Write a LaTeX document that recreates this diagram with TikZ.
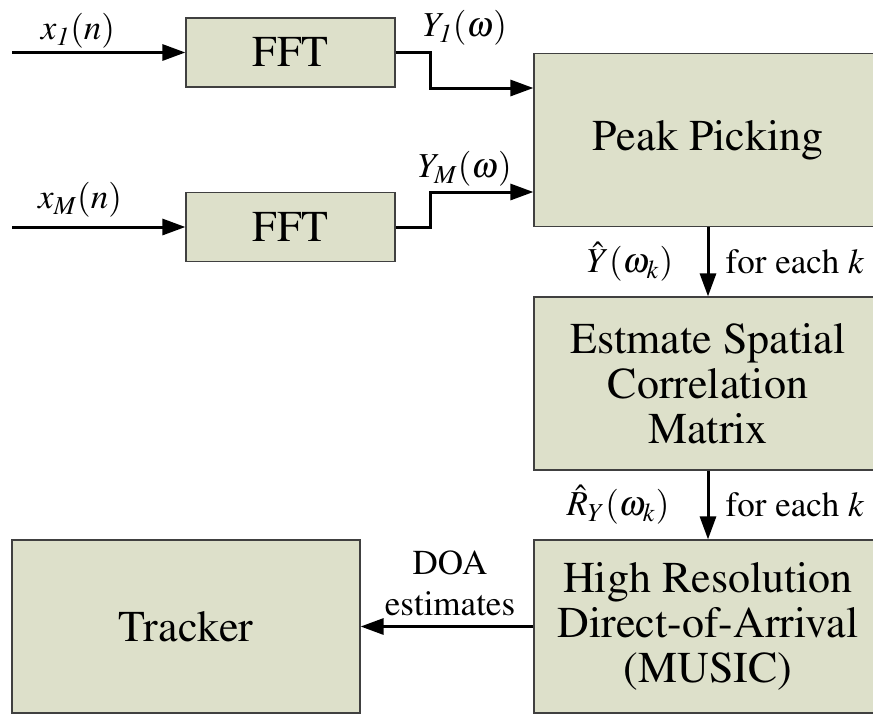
\documentclass[tikz,border=0pt]{standalone}
\usepackage[T1]{fontenc}
\usepackage{mathptmx}
\usetikzlibrary{arrows.meta,calc,positioning}
\definecolor{boxgreen}{RGB}{221,224,202}

\begin{document}
\begin{tikzpicture}[x=0.5pt,y=-0.5pt,
    block/.style={draw=black!75,line width=0.6pt,fill=boxgreen,inner sep=0pt,align=center,font=\fontsize{22}{22.5}\selectfont},
    bigblock/.style={block,minimum width=174pt,minimum height=86.5pt},
    fftblock/.style={block,minimum width=104.5pt,minimum height=34.5pt},
    sig/.style={-{Triangle[length=11.5pt,width=8pt]},line width=1.5pt},
    lbl/.style={font=\fontsize{17.5}{20.5}\selectfont,inner sep=0pt,align=center}]
    \useasboundingbox (0,0) rectangle (873,713);
    %Blocks
    \node[fftblock] (fft1) at (290.5,52.5) {FFT};
    \node[fftblock] (fftM) at (290.5,227) {FFT};
    \node[bigblock] (peak) at (708,140) {Peak Picking};
    \node[bigblock] (corr) at (708,383.5) {Estmate Spatial\\Correlation\\Matrix};
    \node[bigblock] (music) at (708,626.5) {High Resolution\\Direct-of-Arrival\\(MUSIC)};
    \node[bigblock] (track) at (186,626.5) {Tracker};
    %Inputs
    \coordinate (in1) at (12,52.5);
    \coordinate (inM) at (12,227);
    %Arrows
    \draw[sig] (in1) -- (fft1);
    \draw[sig] (inM) -- (fftM);
    \draw[sig] (fft1.east) -- ++(35,0) |- ([yshift=26pt]peak.west);
    \draw[sig] (fftM.east) -- ++(35,0) |- ([yshift=-26pt]peak.west);
    \draw[sig] (peak) -- (corr);
    \draw[sig] (corr) -- (music);
    \draw[sig] (music) -- (track);
    %Labels
    \node[lbl] (lx1) at (78,31) {$x_{\mathit{1}}(n)$};
    \node[lbl] (lxM) at (80,200) {$x_M(n)$};
    \node[lbl] (ly1) at (465,28) {$Y_{\mathit{1}}(\omega)$};
    \node[lbl] (lyM) at (465,169) {$Y_M(\omega)$};
    \node[lbl] (lyk) at (630,262) {$\hat{Y}(\omega_k)$};
    \node[lbl] (lk1) at (795,262) {for each $k$};
    \node[lbl] (lrk) at (618,505) {$\hat{R}_Y(\omega_k)$};
    \node[lbl] (lk2) at (795,505) {for each $k$};
    \node[lbl] (ldoa) at (450,583) {DOA\\estimates};
\end{tikzpicture}
\end{document}
